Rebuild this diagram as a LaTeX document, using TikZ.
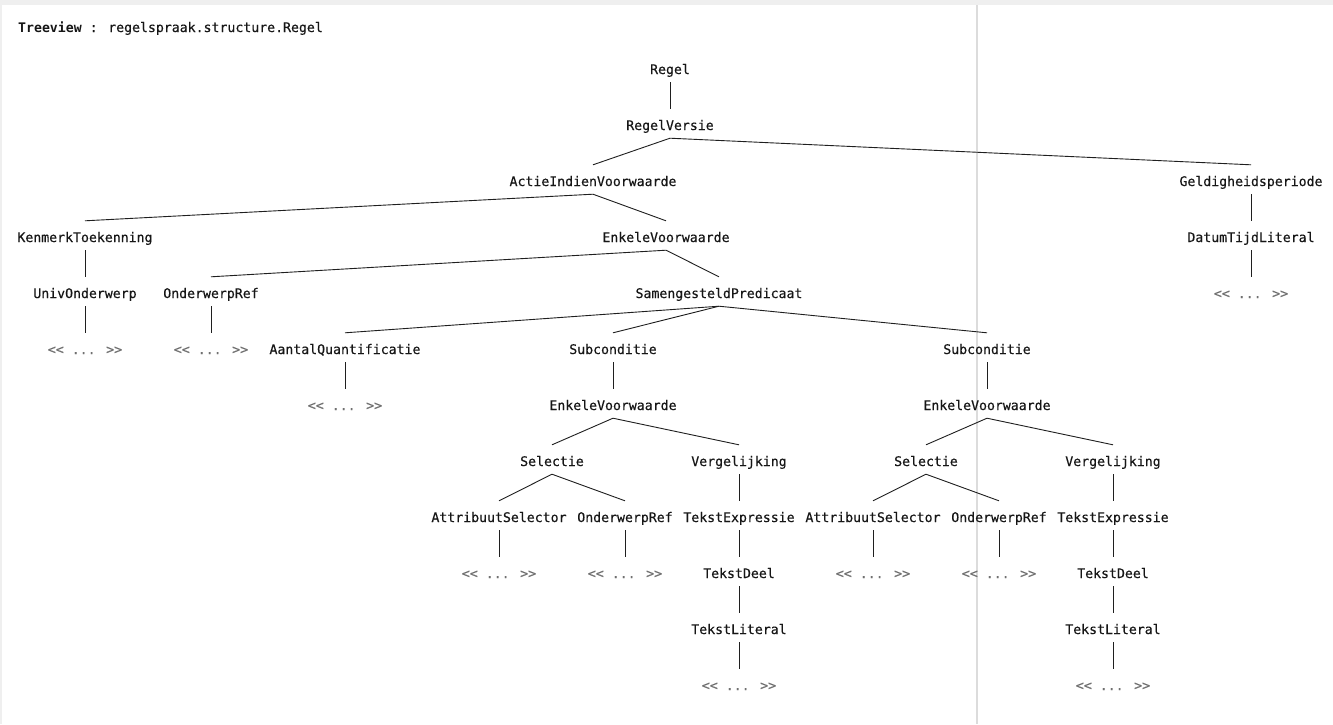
\documentclass[tikz,border=0pt]{standalone}
\usepackage{fontspec}
\setmonofont{DejaVu Sans Mono}
\newfontfamily\treefont[FakeBold=0.35]{DejaVu Sans Mono}
\definecolor{panelgray}{HTML}{EFEFEF}
\definecolor{splitgray}{HTML}{DCDCDC}
\definecolor{labeltext}{HTML}{161616}
\definecolor{dotstext}{HTML}{707070}
\begin{document}
\begin{tikzpicture}[x=1pt,y=-1pt,
    tn/.style={font=\treefont\fontsize{13.2}{15}\selectfont,text=labeltext,anchor=base,
               inner xsep=2pt,inner ysep=6pt,text height=15pt,text depth=2pt},
    dots/.style={tn,text=dotstext},
    edge/.style={line width=0.9pt,black!88}]
   \useasboundingbox (0,0) rectangle (1333,724);
   % Background and panel frame
   \fill[white] (0,0) rectangle (1333,724);
   \fill[panelgray] (0,0) rectangle (1333,5);
   \fill[panelgray] (0,5) rectangle (2,724);
   \draw[splitgray,line width=1.4pt] (977,5) -- (977,724);
   % Title
   \node[anchor=base west,inner sep=0pt,font=\treefont\fontsize{13.2}{15}\selectfont,text=labeltext]
        (title) at (18,32) {{\ttfamily\bfseries Treeview} : regelspraak.structure.Regel};

   % Levels 1 to 4
   \node[tn] (regel)   at (670,74)  {Regel};
   \node[tn] (versie)  at (670,130) {RegelVersie};
   \node[tn] (actie)   at (593,186) {ActieIndienVoorwaarde};
   \node[tn] (geldig)  at (1251,186) {Geldigheidsperiode};
   \node[tn] (kenmerk) at (85,242)  {KenmerkToekenning};
   \node[tn] (enkel)   at (666,242) {EnkeleVoorwaarde};
   \node[tn] (datum)   at (1251,242) {DatumTijdLiteral};
   % Levels 5 and 6
   \node[tn] (univ)    at (85,298)  {UnivOnderwerp};
   \node[tn] (oref)    at (211,298) {OnderwerpRef};
   \node[tn] (samen)   at (719,298) {SamengesteldPredicaat};
   \node[dots] (datumx) at (1251,298) {<< ... >>};
   \node[dots] (univx)  at (85,354)  {<< ... >>};
   \node[dots] (orefx)  at (211,354) {<< ... >>};
   \node[tn] (aantal)  at (345,354) {AantalQuantificatie};
   \node[tn] (subA)    at (613,354) {Subconditie};
   \node[tn] (subB)    at (987,354) {Subconditie};
   \node[dots] (aantalx) at (345,410) {<< ... >>};
   \node[tn] (enkelA)  at (613,410) {EnkeleVoorwaarde};
   \node[tn] (enkelB)  at (987,410) {EnkeleVoorwaarde};
   % Left subcondition
   \node[tn] (selA)    at (552,466) {Selectie};
   \node[tn] (vglA)    at (739,466) {Vergelijking};
   \node[tn] (attrA)   at (499,522) {AttribuutSelector};
   \node[tn] (orefA)   at (625,522) {OnderwerpRef};
   \node[tn] (exprA)   at (739,522) {TekstExpressie};
   \node[dots] (attrAx) at (499,578) {<< ... >>};
   \node[dots] (orefAx) at (625,578) {<< ... >>};
   \node[tn] (deelA)   at (739,578) {TekstDeel};
   \node[tn] (litA)    at (739,634) {TekstLiteral};
   \node[dots] (litAx)  at (739,690) {<< ... >>};
   % Right subcondition
   \node[tn] (selB)    at (926,466) {Selectie};
   \node[tn] (vglB)    at (1113,466) {Vergelijking};
   \node[tn] (attrB)   at (873,522) {AttribuutSelector};
   \node[tn] (orefB)   at (999,522) {OnderwerpRef};
   \node[tn] (exprB)   at (1113,522) {TekstExpressie};
   \node[dots] (attrBx) at (873,578) {<< ... >>};
   \node[dots] (orefBx) at (999,578) {<< ... >>};
   \node[tn] (deelB)   at (1113,578) {TekstDeel};
   \node[tn] (litB)    at (1113,634) {TekstLiteral};
   \node[dots] (litBx)  at (1113,690) {<< ... >>};

   % Edges
   \draw[edge] (regel.south) -- (versie.north);
   \draw[edge] (versie.south) -- (actie.north);
   \draw[edge] (versie.south) -- (geldig.north);
   \draw[edge] (geldig.south) -- (datum.north);
   \draw[edge] (datum.south) -- (datumx.north);
   \draw[edge] (actie.south) -- (kenmerk.north);
   \draw[edge] (actie.south) -- (enkel.north);
   \draw[edge] (kenmerk.south) -- (univ.north);
   \draw[edge] (univ.south) -- (univx.north);
   \draw[edge] (enkel.south) -- (oref.north);
   \draw[edge] (enkel.south) -- (samen.north);
   \draw[edge] (oref.south) -- (orefx.north);
   \draw[edge] (samen.south) -- (aantal.north);
   \draw[edge] (samen.south) -- (subA.north);
   \draw[edge] (samen.south) -- (subB.north);
   \draw[edge] (aantal.south) -- (aantalx.north);
   \draw[edge] (subA.south) -- (enkelA.north);
   \draw[edge] (subB.south) -- (enkelB.north);
   \draw[edge] (enkelA.south) -- (selA.north);
   \draw[edge] (enkelA.south) -- (vglA.north);
   \draw[edge] (selA.south) -- (attrA.north);
   \draw[edge] (selA.south) -- (orefA.north);
   \draw[edge] (vglA.south) -- (exprA.north);
   \draw[edge] (attrA.south) -- (attrAx.north);
   \draw[edge] (orefA.south) -- (orefAx.north);
   \draw[edge] (exprA.south) -- (deelA.north);
   \draw[edge] (deelA.south) -- (litA.north);
   \draw[edge] (litA.south) -- (litAx.north);
   \draw[edge] (enkelB.south) -- (selB.north);
   \draw[edge] (enkelB.south) -- (vglB.north);
   \draw[edge] (selB.south) -- (attrB.north);
   \draw[edge] (selB.south) -- (orefB.north);
   \draw[edge] (vglB.south) -- (exprB.north);
   \draw[edge] (attrB.south) -- (attrBx.north);
   \draw[edge] (orefB.south) -- (orefBx.north);
   \draw[edge] (exprB.south) -- (deelB.north);
   \draw[edge] (deelB.south) -- (litB.north);
   \draw[edge] (litB.south) -- (litBx.north);
\end{tikzpicture}
\end{document}
